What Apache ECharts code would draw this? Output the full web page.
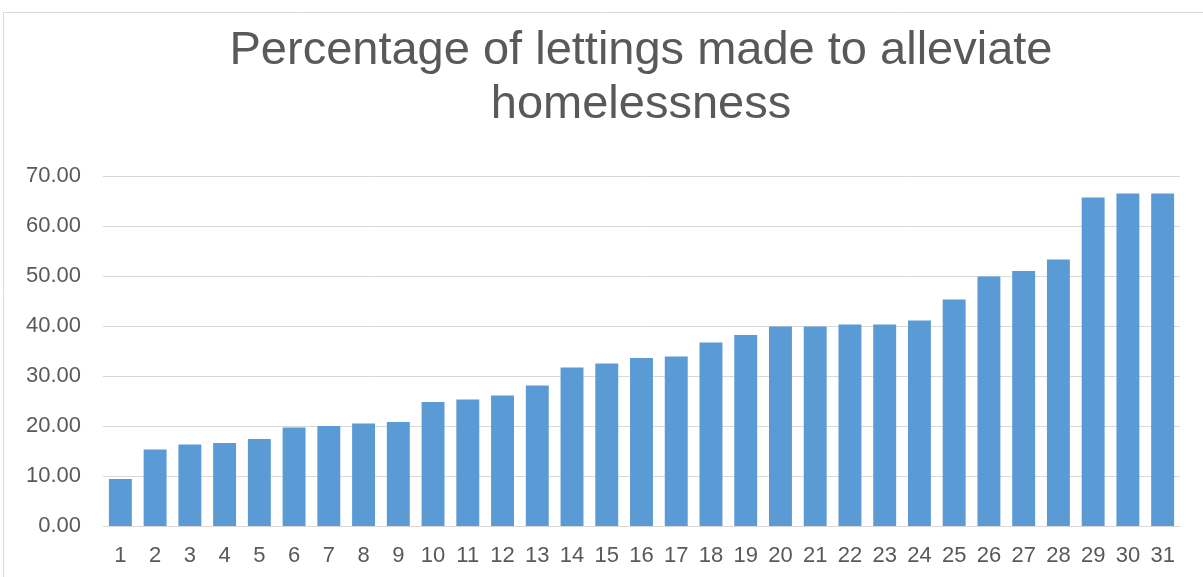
<!DOCTYPE html>
<html>
<head>
<meta charset="utf-8">
<script src="https://cdn.jsdelivr.net/npm/echarts@6/dist/echarts.min.js"></script>
<style>
  html, body { margin: 0; padding: 0; background: #fff; }
  #chart { width: 1203px; height: 577px; }
</style>
</head>
<body>
<div id="chart"></div>
<script>
const categories = ['1','2','3','4','5','6','7','8','9','10','11','12','13','14','15','16',
  '17','18','19','20','21','22','23','24','25','26','27','28','29','30','31']
const values = [9.4, 15.3, 16.3, 16.6, 17.4, 19.7, 20.0, 20.5, 20.8, 24.8, 25.3, 26.1, 28.1,
  31.7, 32.5, 33.6, 33.9, 36.7, 38.2, 39.9, 39.9, 40.3, 40.3, 41.1, 45.3, 49.9, 51.0, 53.3,
  65.7, 66.5, 66.5]
const titleText = 'Percentage of lettings made to alleviate\nhomelessness'

let chart = echarts.init(document.getElementById('chart'))
chart.setOption({
  animation: false,
  textStyle: { fontFamily: 'Liberation Sans, Arial, sans-serif' },
  graphic: [
    {
      type: 'rect',
      shape: { x: 3.5, y: 12.5, width: 1210, height: 580 },
      style: { fill: 'none', stroke: '#d9d9d9', lineWidth: 1 }
    }
  ],
  title: {
    text: titleText,
    left: 636,
    top: 19,
    textAlign: 'center',
    textStyle: {
      fontSize: 47,
      fontWeight: 'normal',
      color: '#595959',
      lineHeight: 54,
      fontFamily: 'Liberation Sans, Arial, sans-serif'
    }
  },
  grid: {
    left: 103,
    right: 23,
    top: 176,
    bottom: 51,
    containLabel: false
  },
  xAxis: {
    type: 'category',
    data: categories,
    axisLine: { lineStyle: { color: '#d9d9d9', width: 1 } },
    axisTick: { show: false },
    axisLabel: { color: '#595959', fontSize: 22, margin: 19, interval: 0 }
  },
  yAxis: {
    type: 'value',
    min: 0,
    max: 70,
    interval: 10,
    axisLine: { show: false },
    axisTick: { show: false },
    splitLine: { lineStyle: { color: '#d9d9d9', width: 1 } },
    axisLabel: {
      color: '#595959',
      fontSize: 22,
      margin: 22,
      formatter: v => v.toFixed(2)
    }
  },
  series: [
    {
      type: 'bar',
      data: values,
      barCategoryGap: '34%',
      itemStyle: { color: '#5b9bd5' }
    }
  ]
})
</script>
</body>
</html>
